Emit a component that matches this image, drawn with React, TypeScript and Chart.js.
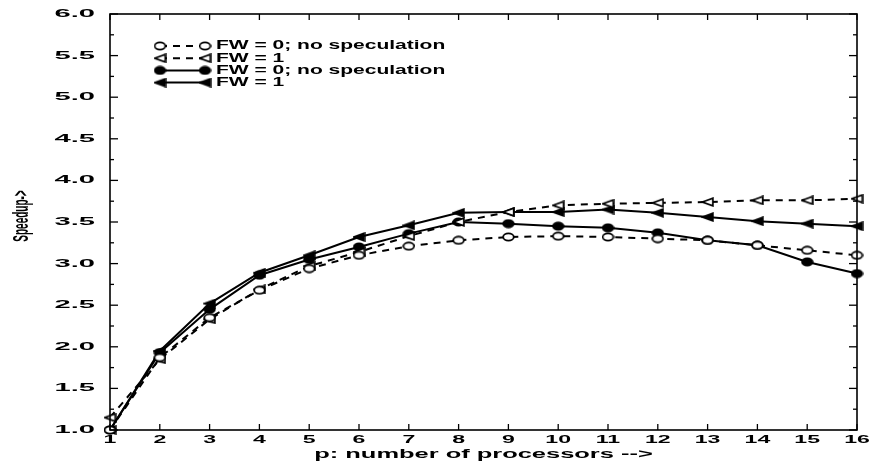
import React, { useEffect, useRef } from 'react';
import { Chart, registerables } from 'chart.js';

Chart.register(...registerables);

// ---- data ----
const processors = ['1', '2', '3', '4', '5', '6', '7', '8', '9', '10', '11', '12', '13', '14', '15', '16'];
const yTickLabels = ['1.0', '1.5', '2.0', '2.5', '3.0', '3.5', '4.0', '4.5', '5.0', '5.5', '6.0'];
const seriesLabels = ['FW = 0; no speculation', 'FW = 1', 'FW = 0; no speculation', 'FW = 1'];
const dashedNoSpec = [1.0, 1.87, 2.35, 2.68, 2.94, 3.1, 3.21, 3.28, 3.32, 3.33, 3.32, 3.3, 3.28, 3.22, 3.16, 3.1];
const dashedFw1 = [1.15, 1.85, 2.33, 2.69, 2.97, 3.14, 3.33, 3.5, 3.62, 3.7, 3.72, 3.73, 3.74, 3.76, 3.76, 3.78];
const solidNoSpec = [1.0, 1.93, 2.45, 2.86, 3.05, 3.2, 3.36, 3.5, 3.48, 3.45, 3.43, 3.37, 3.28, 3.22, 3.02, 2.88];
const solidFw1 = [1.0, 1.95, 2.52, 2.89, 3.1, 3.32, 3.46, 3.61, 3.62, 3.62, 3.65, 3.61, 3.56, 3.51, 3.48, 3.45];
const xAxisTitle = 'p: number of processors -->';
const yAxisTitle = 'Speedup->';

const FONT = '"Liberation Sans", Arial, Helvetica, sans-serif';

function makeMarker(kind: 'circle' | 'triangle', filled: boolean): HTMLCanvasElement {
  const c = document.createElement('canvas');
  c.width = 13;
  c.height = 10;
  const g = c.getContext('2d') as CanvasRenderingContext2D;
  g.lineWidth = 1.8;
  g.strokeStyle = '#000';
  g.fillStyle = filled ? '#000' : '#fff';
  g.beginPath();
  if (kind === 'circle') {
    g.ellipse(6.5, 5, 5.3, 3.7, 0, 0, Math.PI * 2);
  } else {
    g.moveTo(1.2, 5);
    g.lineTo(11.8, 1.2);
    g.lineTo(11.8, 8.8);
    g.closePath();
  }
  g.fill();
  g.stroke();
  return c;
}

function stretchText(
  ctx: CanvasRenderingContext2D,
  text: string,
  x: number,
  y: number,
  sx: number,
  align: CanvasTextAlign,
  font: string
) {
  ctx.save();
  ctx.translate(x, y);
  ctx.scale(sx, 1);
  ctx.font = font;
  ctx.textAlign = align;
  ctx.textBaseline = 'middle';
  ctx.fillStyle = '#000';
  ctx.fillText(text, 0, 0);
  ctx.restore();
}

export default function App() {
  const ref = useRef<HTMLCanvasElement | null>(null);

  useEffect(() => {
    const canvas = ref.current;
    if (!canvas) return;
    const openCircle = makeMarker('circle', false);
    const openTri = makeMarker('triangle', false);
    const fillCircle = makeMarker('circle', true);
    const fillTri = makeMarker('triangle', true);
    const markers = [openCircle, openTri, fillCircle, fillTri];
    const dashes = [[7, 6], [7, 6], [], []];

    const decor = {
      id: 'decor',
      afterDraw(chart: any) {
        const ctx: CanvasRenderingContext2D = chart.ctx;
        const a = chart.chartArea;
        const xs = chart.scales.x;
        const ys = chart.scales.y;
        ctx.save();
        ctx.strokeStyle = '#000';
        ctx.lineWidth = 1.6;
        ctx.strokeRect(a.left, a.top, a.right - a.left, a.bottom - a.top);
        ctx.lineWidth = 1.3;
        const seg = (x1: number, y1: number, x2: number, y2: number) => {
          ctx.beginPath();
          ctx.moveTo(x1, y1);
          ctx.lineTo(x2, y2);
          ctx.stroke();
        };
        // x ticks (top and bottom) + labels
        processors.forEach((p, i) => {
          const px = xs.getPixelForValue(i);
          seg(px, a.bottom, px, a.bottom - 6);
          seg(px, a.top, px, a.top + 6);
          stretchText(ctx, p, px, a.bottom + 10, 2.1, 'center', `bold 11px ${FONT}`);
        });
        // y ticks (left and right) + labels
        const yt = ys.ticks;
        yt.forEach((t: any, i: number) => {
          const py = ys.getPixelForValue(t.value);
          seg(a.left, py, a.left + 8, py);
          seg(a.right, py, a.right - 8, py);
          if (i < yt.length - 1) {
            const pm = (py + ys.getPixelForValue(yt[i + 1].value)) / 2;
            seg(a.left, pm, a.left + 4, pm);
            seg(a.right, pm, a.right - 4, pm);
          }
          stretchText(ctx, yTickLabels[i], a.left - 15, py, 2.65, 'right', `bold 11px ${FONT}`);
        });
        // axis titles
        stretchText(ctx, xAxisTitle, (a.left + a.right) / 2, a.bottom + 25, 2.12, 'center', `bold 12px ${FONT}`);
        ctx.save();
        ctx.translate(22, 216);
        ctx.scale(2.2, 1);
        ctx.rotate(-Math.PI / 2);
        ctx.font = `bold 10px ${FONT}`;
        ctx.textAlign = 'center';
        ctx.textBaseline = 'middle';
        ctx.fillStyle = '#000';
        ctx.fillText(yAxisTitle, 0, 0);
        ctx.restore();
        // legend
        const lx1 = 160;
        const lx2 = 205;
        seriesLabels.forEach((lab, i) => {
          const ly = 46 + i * 12.2;
          ctx.save();
          ctx.lineWidth = 2;
          ctx.setLineDash(dashes[i]);
          seg(lx1, ly, lx2, ly);
          ctx.restore();
          const m = markers[i];
          ctx.drawImage(m, lx1 - m.width / 2, ly - m.height / 2);
          ctx.drawImage(m, lx2 - m.width / 2, ly - m.height / 2);
          stretchText(ctx, lab, 216, ly, 1.75, 'left', `bold 12px ${FONT}`);
        });
        ctx.restore();
      },
    };

    const seriesData = [dashedNoSpec, dashedFw1, solidNoSpec, solidFw1];
    const chart = new Chart(canvas, {
      type: 'line',
      data: {
        labels: processors,
        datasets: seriesData.map((d, i) => ({
          label: seriesLabels[i],
          data: d,
          borderColor: '#000',
          backgroundColor: '#000',
          borderWidth: 2,
          borderDash: dashes[i],
          pointStyle: markers[i] as any,
          pointRadius: 5,
          pointHoverRadius: 5,
          tension: 0,
          fill: false,
          clip: false as any,
        })),
      },
      options: {
        responsive: false,
        animation: false,
        events: [],
        layout: { padding: { left: 0, right: 13, top: 14, bottom: 0 } },
        plugins: {
          legend: { display: false },
          tooltip: { enabled: false },
          title: { display: false },
        },
        scales: {
          x: {
            type: 'category',
            offset: false,
            grid: { display: false },
            border: { display: false },
            ticks: { display: false },
            afterFit: (s: any) => {
              s.height = 34;
            },
          },
          y: {
            type: 'linear',
            min: 1,
            max: 6,
            grid: { display: false },
            border: { display: false },
            ticks: { display: false, stepSize: 0.5 },
            afterFit: (s: any) => {
              s.width = 110;
            },
          },
        },
      },
      plugins: [decor],
    });
    return () => chart.destroy();
  }, []);

  return (
    <div style={{ position: 'fixed', left: 0, top: 0, width: 870, height: 464, background: '#fff' }}>
      <canvas ref={ref} width={870} height={464} style={{ width: 870, height: 464, display: 'block' }} />
    </div>
  );
}
